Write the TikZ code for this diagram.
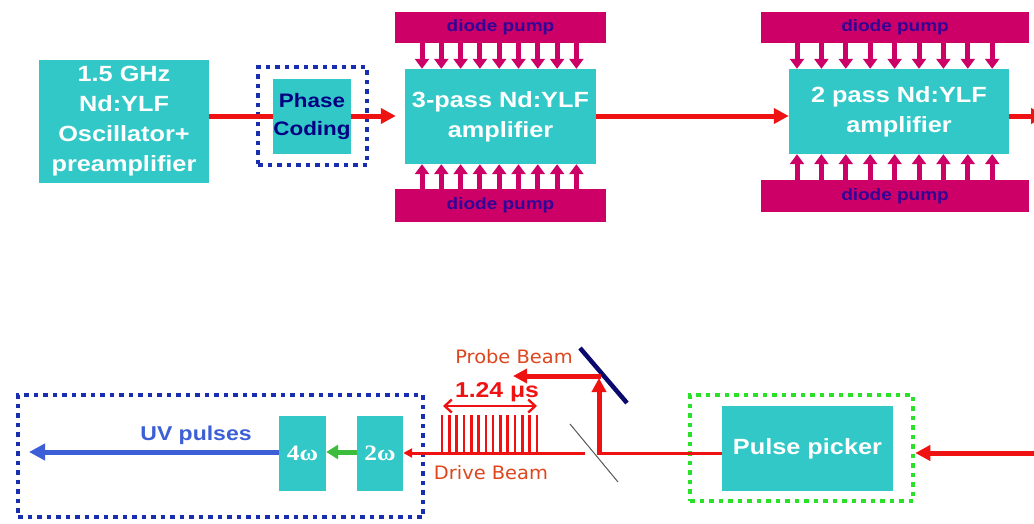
\documentclass[tikz,border=0pt]{standalone}
\usepackage{fontspec}
\setmainfont{Liberation Sans}[FakeStretch=1.15]
\newfontfamily\beamfont{DejaVu Sans}[FakeStretch=1.05]
\newfontfamily\omegafont{Liberation Serif}[FakeStretch=1.15]
\usetikzlibrary{arrows.meta}
\definecolor{boxcyan}{RGB}{50,200,200}
\definecolor{pumpmag}{RGB}{204,0,102}
\definecolor{pumptext}{RGB}{50,0,150}
\definecolor{beamred}{RGB}{238,18,18}
\definecolor{labelred}{RGB}{222,70,30}
\definecolor{navy}{RGB}{0,0,128}
\definecolor{dotblue}{RGB}{25,45,175}
\definecolor{dotgreen}{RGB}{40,225,40}
\definecolor{uvblue}{RGB}{60,95,215}
\definecolor{arrowgreen}{RGB}{60,190,60}
\definecolor{mirrorblue}{RGB}{10,10,110}
\tikzset{
  box/.style={fill=boxcyan, draw=none, text=white, align=center, inner sep=0pt,
    font=\bfseries\fontsize{22}{30}\selectfont},
  pumpbar/.style={fill=pumpmag, draw=none, text=pumptext, inner sep=0pt,
    font=\bfseries\fontsize{16.5}{18}\selectfont},
  pumparrow/.style={draw=pumpmag, line width=5pt, -{Triangle[length=10pt,width=14pt]}},
  beam/.style={draw=beamred, line width=5pt, -{Triangle[length=15pt,width=15pt]}},
  thinbeam/.style={draw=beamred, line width=3pt},
  dotbox/.style={line width=4.5pt, dash pattern=on 4.5pt off 5pt, fill=none},
  beamlabel/.style={text=labelred, inner sep=0pt, font=\beamfont\fontsize{18.5}{20}\selectfont},
}
\begin{document}
\begin{tikzpicture}[x=1pt,y=-1pt]
\useasboundingbox (0,0) rectangle (1034,523);
\clip (0,0) rectangle (1034,523);
\fill[white] (0,0) rectangle (1034,523);

% ---------- top row ----------
\node[box, minimum width=170pt, minimum height=123pt] (osc) at (124,121.5)
  {1.5 GHz\\Nd:YLF\\Oscillator+\\preamplifier};
\node[draw=dotblue, dotbox, minimum width=109pt, minimum height=98pt] (phbox) at (312.5,116) {};
\node[box, text=navy, minimum width=74pt, minimum height=75pt,
  font=\bfseries\fontsize{19.5}{28}\selectfont] (phase) at (312,116.5) {Phase\\Coding};

\node[pumpbar, minimum width=211pt, minimum height=31pt] (p3t) at (500.5,27.5) {diode pump};
\node[box, minimum width=191pt, minimum height=95pt] (amp3) at (500.5,116.5) {3-pass Nd:YLF\\amplifier};
\node[pumpbar, minimum width=211pt, minimum height=33pt] (p3b) at (500.5,205.5) {diode pump};

\node[pumpbar, minimum width=268pt, minimum height=31pt] (p2t) at (895,27.5) {diode pump};
\node[box, minimum width=220pt, minimum height=85pt] (amp2) at (899,111.5) {2 pass Nd:YLF\\amplifier};
\node[pumpbar, minimum width=268pt, minimum height=32pt] (p2b) at (895,196) {diode pump};

\foreach \i in {0,...,8}{
  \pgfmathsetmacro{\xa}{422+19.3*\i}
  \draw[pumparrow] (\xa,0 |- p3t.south) -- (\xa,0 |- amp3.north);
  \draw[pumparrow] (\xa,0 |- p3b.north) -- (\xa,0 |- amp3.south);
  \pgfmathsetmacro{\xb}{797+24.4*\i}
  \draw[pumparrow] (\xb,0 |- p2t.south) -- (\xb,0 |- amp2.north);
  \draw[pumparrow] (\xb,0 |- p2b.north) -- (\xb,0 |- amp2.south);
}

\coordinate (outR) at (1046,116);
\draw[beamred, line width=5pt] (osc.east |- 0,116) -- (phase.west |- 0,116);
\draw[beam, shorten >=9pt] (phase.east |- 0,116) -- (amp3.west |- 0,116);
\draw[beam] (amp3.east |- 0,116) -- (amp2.west |- 0,116);
\draw[beam] (amp2.east |- 0,116) -- (outR);

% ---------- bottom row ----------
\node[box, minimum width=171pt, minimum height=85pt] (pp) at (807.5,448.5) {Pulse picker};
\node[draw=dotgreen, dotbox, minimum width=223pt, minimum height=106pt] (ppbox) at (801.5,448) {};
\coordinate (inR) at (1035.5,453);
\coordinate (topR) at (1035.5,116);
\draw[beamred!50, line width=3pt] (topR) -- (inR);
\draw[beam] (1046,453) -- (ppbox.east |- 0,453);

\node[draw=dotblue, dotbox, minimum width=405pt, minimum height=122pt] (uvbox) at (220.5,456) {};
\node[box, minimum width=46pt, minimum height=75pt, font=\omegafont\bfseries\fontsize{22}{24}\selectfont] (w2) at (380,453.5) {2ω};
\node[box, minimum width=47pt, minimum height=75pt, font=\omegafont\bfseries\fontsize{22}{24}\selectfont] (w4) at (302.5,453.5) {4ω};
\coordinate (uvend) at (29,452);
\draw[draw=arrowgreen, line width=5pt, -{Triangle[length=12pt,width=14pt]}] (w2.west |- 0,452) -- (w4.east |- 0,452);
\draw[draw=uvblue, line width=5pt, -{Triangle[length=16pt,width=16pt]}] (w4.west |- 0,452) -- (uvend);
\node[text=uvblue, font=\bfseries\fontsize{20}{22}\selectfont, inner sep=0pt] (uvlab) at (196,435) {UV pulses};

% beam splitter and mirror
\coordinate (bsA) at (570,424);
\coordinate (bsB) at (618,482);
\draw[gray!70!black, line width=1pt] (bsA) -- (bsB);
\coordinate (mA) at (580,348);
\coordinate (mB) at (627,403);
\draw[mirrorblue, line width=4.5pt] (mA) -- (mB);

\coordinate (bsR) at (600,453);
\coordinate (bsL) at (585,453);
\coordinate (mirr) at (599,378);
\coordinate (probeend) at (513,376);
\draw[thinbeam] (pp.west |- 0,453) -- (bsR);
\draw[thinbeam, -{Triangle[length=9pt,width=9pt]}] (bsL) -- (w2.east |- 0,453);
\draw[beam, -{Triangle[length=14pt,width=14pt]}] (599,455) -- (mirr);
\draw[beam, -{Triangle[length=14pt,width=14pt]}] (601,376) -- (probeend);

% pulse train
\foreach \i in {0,...,13}{
  \pgfmathsetmacro{\xp}{442+7.3*\i}
  \draw[beamred, line width=2.6pt] (\xp,415) -- (\xp,453);
}
\coordinate (trL) at (443,406);
\coordinate (trR) at (537,406);
\draw[beamred, line width=2.4pt, {Straight Barb[length=7pt,width=13pt]}-{Straight Barb[length=7pt,width=13pt]}] (trL) -- (trR);

\node[beamlabel] (probelab) at (514,357) {Probe Beam};
\node[beamlabel] (drivelab) at (491,473) {Drive Beam};
\node[text=beamred, font=\bfseries\fontsize{21.5}{23}\selectfont, inner sep=0pt] (tlab) at (497,392) {1.24 μs};
\end{tikzpicture}
\end{document}
